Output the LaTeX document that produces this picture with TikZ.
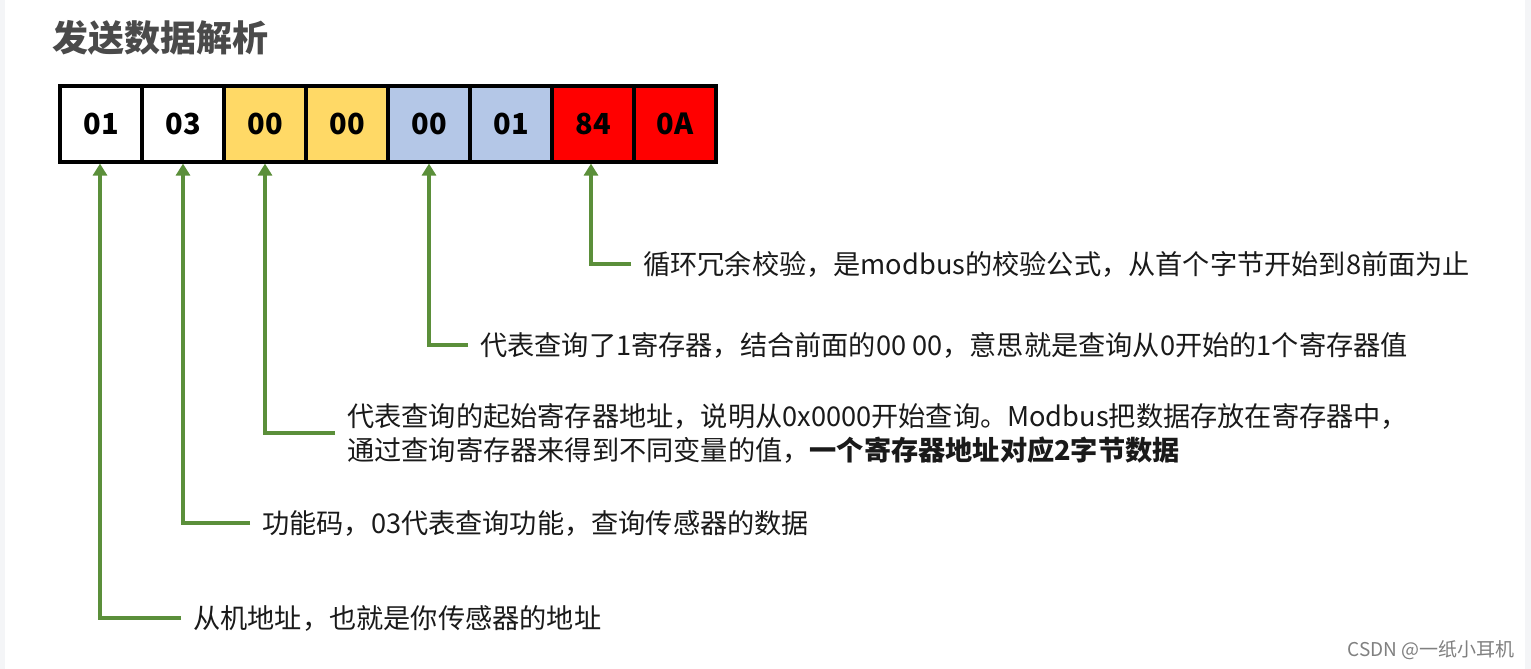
\documentclass[tikz,border=0pt]{standalone}
\usepackage{fontspec}
\setmainfont{Noto Sans CJK SC}
\usetikzlibrary{arrows.meta}
\definecolor{arrgreen}{HTML}{5B8F3A}
\definecolor{cyel}{HTML}{FFD966}
\definecolor{cblue}{HTML}{B4C7E7}
\definecolor{cred}{HTML}{FF0000}
\definecolor{titlegray}{HTML}{4A4A4A}
\definecolor{sidegray}{HTML}{F4F5F7}
\definecolor{txt}{HTML}{1A1A1A}
\tikzset{
  cell/.style={draw=black, line width=3.2pt, minimum width=82pt, minimum height=76pt,
    inner sep=0pt, font=\fontsize{29}{30}\selectfont\bfseries, text=black},
  arr/.style={draw=arrgreen, line width=3.6pt, -{Triangle[width=14pt,length=12pt]}},
  desc/.style={inner sep=0pt, anchor=west, align=left, text=txt,
    font=\fontsize{27.2}{34}\selectfont},
}
\begin{document}
\begin{tikzpicture}[x=1pt,y=-1pt]
\useasboundingbox (0,0) rectangle (1531,669);
\fill[white] (0,0) rectangle (1531,669);
\fill[sidegray] (0,0) rectangle (5,669);
\fill[sidegray] (1525,0) rectangle (1531,669);
\node[anchor=west, inner sep=0pt, text=titlegray, font=\fontsize{36}{40}\selectfont\bfseries] (title) at (52,38) {发送数据解析};
\node[cell, fill=white] (b1) at (101,124) {01};
\node[cell, fill=white] (b2) at (183,124) {03};
\node[cell, fill=cyel] (b3) at (265,124) {00};
\node[cell, fill=cyel] (b4) at (347,124) {00};
\node[cell, fill=cblue] (b5) at (429,124) {00};
\node[cell, fill=cblue] (b6) at (511,124) {01};
\node[cell, fill=cred] (b7) at (593,124) {84};
\node[cell, fill=cred] (b8) at (675,124) {0A};
\node[desc] (t7) at (643,264) {循环冗余校验，是modbus的校验公式，从首个字节开始到8前面为止};
\node[desc] (t5) at (480,345) {代表查询了1寄存器，结合前面的00 00，意思就是查询从0开始的1个寄存器值};
\node[desc] (t3) at (347,433) {代表查询的起始寄存器地址，说明从0x0000开始查询。Modbus把数据存放在寄存器中，\\通过查询寄存器来得到不同变量的值，\textbf{一个寄存器地址对应2字节数据}};
\node[desc] (t2) at (262,523) {功能码，03代表查询功能，查询传感器的数据};
\node[desc] (t1) at (193,618) {从机地址，也就是你传感器的地址};
\draw[arr] ([xshift=-12pt]t7.west) -| ([xshift=-2pt]b7.south);
\draw[arr] ([xshift=-12pt]t5.west) -| (b5.south);
\draw[arr] ([xshift=-12pt]t3.west) -| (b3.south);
\draw[arr] ([xshift=-12pt]t2.west) -| (b2.south);
\draw[arr] ([xshift=-12pt]t1.west) -| ([xshift=-1pt]b1.south);
\node[anchor=east, inner sep=0pt, text=gray, font=\fontsize{19}{22}\selectfont] (wm) at (1515,650) {CSDN @一纸小耳机};
\end{tikzpicture}
\end{document}
